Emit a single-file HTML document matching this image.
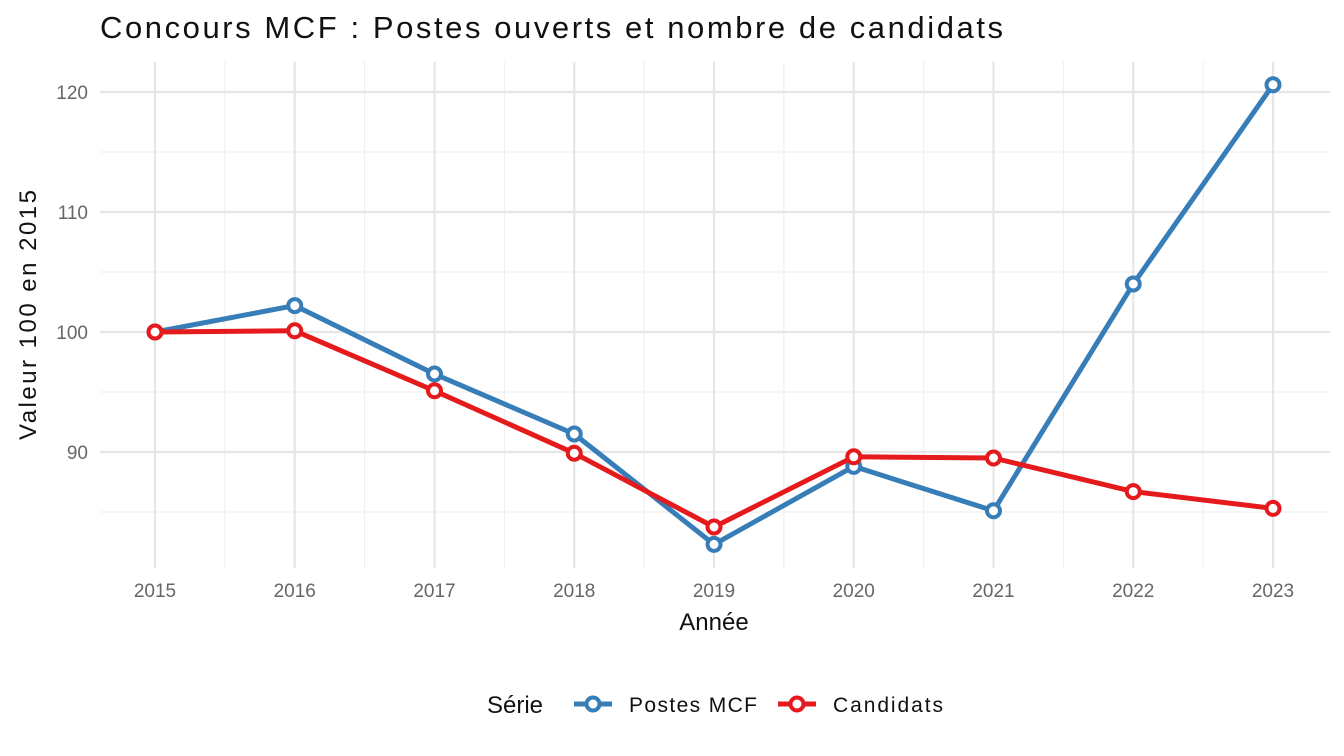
<!DOCTYPE html>
<html><head><meta charset="utf-8"><style>
body{margin:0;background:#fff;}
svg{display:block;font-family:"Liberation Sans",sans-serif;}
</style></head><body>
<svg width="1344" height="756" id="c">
<text x="100" y="38" font-size="31" fill="#111" textLength="903" lengthAdjust="spacing">Concours MCF : Postes ouverts et nombre de candidats</text>
<g id="grid"></g>
<g id="series"></g>
<text transform="translate(36,315) rotate(-90)" text-anchor="middle" font-size="24" fill="#111" textLength="250" lengthAdjust="spacing">Valeur 100 en 2015</text>
<text x="714" y="630" text-anchor="middle" font-size="24" fill="#111">Année</text>
<g>
<text x="487" y="713" font-size="24" fill="#111">Série</text>
<g>
<line x1="574" y1="704" x2="612" y2="704" stroke="#377EB8" stroke-width="5"/>
<circle cx="593" cy="704" r="6.5" fill="#fff" stroke="#377EB8" stroke-width="4"/>
<text x="629" y="712" font-size="21" fill="#111" textLength="128" lengthAdjust="spacing">Postes MCF</text></g>
<g>
<line x1="778" y1="704" x2="816" y2="704" stroke="#E41A1C" stroke-width="5"/>
<circle cx="797" cy="704" r="6.5" fill="#fff" stroke="#E41A1C" stroke-width="4"/>
<text x="833" y="712" font-size="21" fill="#111" textLength="110" lengthAdjust="spacing">Candidats</text></g>
</g>
</svg>
<script>
const years=[2015,2016,2017,2018,2019,2020,2021,2022,2023];
const postes=[100,102.2,96.5,91.5,82.3,88.8,85.1,104,120.6];
const candidats=[100,100.1,95.1,89.9,83.75,89.6,89.5,86.7,85.3];
const yTicks=[90,100,110,120];
const NS="http://www.w3.org/2000/svg";
const X=v=>155+(v-2015)*139.75;
const Y=v=>332-(v-100)*12;
const L=100,R=1330,T=62,B=568;
const g=document.getElementById('grid'),s=document.getElementById('series');
function mk(tag,a,p){const e=document.createElementNS(NS,tag);for(const k in a)e.setAttribute(k,a[k]);p.appendChild(e);return e;}
[85,95,105,115].forEach(v=>{const e=mk('line',{x1:L,x2:R,y1:Y(v),y2:Y(v),stroke:'#f0f0f0','stroke-width':1.2},g);

});
years.slice(0,-1).forEach(v=>{const e=mk('line',{x1:X(v+0.5),x2:X(v+0.5),y1:T,y2:B,stroke:'#f0f0f0','stroke-width':1.2},g);

});
yTicks.forEach(v=>{const e=mk('line',{x1:L,x2:R,y1:Y(v),y2:Y(v),stroke:'#e6e6e6','stroke-width':2.2},g);


const t=mk('text',{x:88,y:Y(v)+7,'text-anchor':'end','font-size':19,fill:'#666'},g);t.textContent=v;

});
years.forEach(v=>{const e=mk('line',{x1:X(v),x2:X(v),y1:T,y2:B,stroke:'#e6e6e6','stroke-width':2.2},g);


const t=mk('text',{x:X(v),y:597,'text-anchor':'middle','font-size':19,fill:'#666'},g);t.textContent=v;

});
function draw(vals,col,name){
const p=mk('polyline',{points:vals.map((v,i)=>X(years[i])+','+Y(v)).join(' '),fill:'none',stroke:col,'stroke-width':5,'stroke-linejoin':'round'},s);


vals.forEach((v,i)=>{const c=mk('circle',{cx:X(years[i]),cy:Y(v),r:6.5,fill:'#fff',stroke:col,'stroke-width':4},s);

});}
draw(postes,'#377EB8','postes');
draw(candidats,'#E41A1C','candidats');
</script>
</body></html>
